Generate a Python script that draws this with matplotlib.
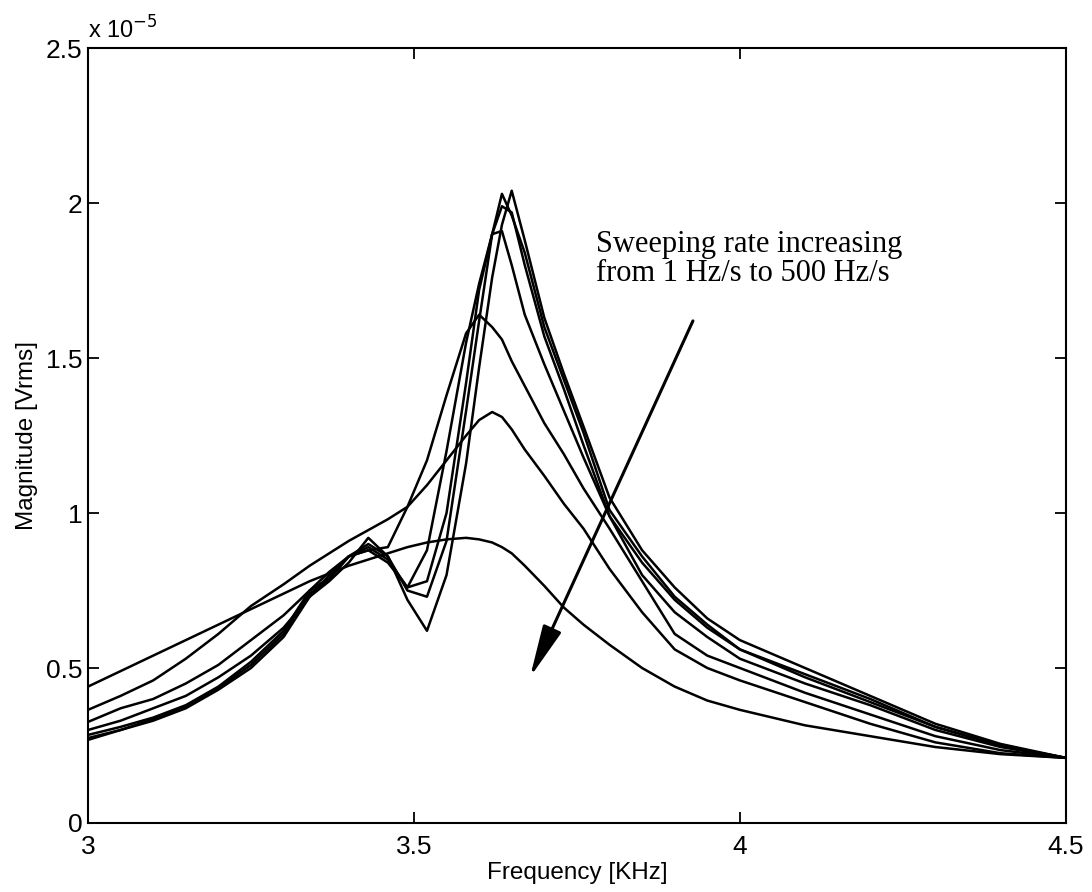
import matplotlib
matplotlib.use('Agg')
import matplotlib.pyplot as plt
from matplotlib.ticker import FuncFormatter

# frequency grid [KHz], shared by all sweeps
freq = [3.00, 3.05, 3.10, 3.15, 3.20, 3.25, 3.30, 3.34, 3.37, 3.40, 3.43, 3.46,
        3.49, 3.52, 3.55, 3.58, 3.60, 3.62, 3.635, 3.65, 3.67, 3.70, 3.73, 3.76,
        3.80, 3.85, 3.90, 3.95, 4.00, 4.10, 4.20, 4.30, 4.40, 4.50]

# magnitude [x 1e-5 Vrms], slowest sweep first
mag_1 = [.268, .30, .33, .37, .43, .50, .60, .73, .78, .84, .92, .86,
         .72, .62, .80, 1.16, 1.47, 1.76, 1.93, 2.04, 1.88, 1.63, 1.45, 1.28,
         1.05, .88, .76, .66, .59, .50, .41, .32, .255, .21]
mag_2 = [.274, .30, .335, .375, .435, .51, .61, .74, .785, .86, .90, .86,
         .75, .73, .91, 1.33, 1.62, 1.90, 2.03, 1.96, 1.84, 1.60, 1.43, 1.26,
         1.01, .86, .73, .64, .56, .48, .40, .31, .25, .21]
mag_3 = [.284, .31, .34, .38, .44, .52, .62, .75, .79, .86, .89, .85,
         .76, .78, 1.00, 1.42, 1.72, 1.90, 1.99, 1.97, 1.80, 1.57, 1.40, 1.22,
         .99, .84, .72, .63, .56, .47, .39, .31, .25, .21]
mag_4 = [.30, .33, .37, .41, .47, .54, .63, .73, .80, .86, .88, .84,
         .76, .88, 1.20, 1.55, 1.74, 1.90, 1.91, 1.80, 1.64, 1.48, 1.33, 1.18,
         .99, .80, .68, .60, .53, .45, .38, .30, .245, .21]
mag_5 = [.326, .37, .40, .45, .51, .59, .67, .75, .81, .86, .88, .89,
         1.02, 1.17, 1.38, 1.58, 1.64, 1.60, 1.56, 1.49, 1.41, 1.29, 1.19, 1.08,
         .95, .78, .61, .54, .50, .42, .35, .28, .235, .21]
mag_6 = [.365, .41, .46, .53, .61, .70, .77, .83, .87, .91, .945, .98,
         1.02, 1.09, 1.17, 1.25, 1.30, 1.326, 1.31, 1.27, 1.205, 1.12, 1.03, .95,
         .82, .68, .56, .50, .46, .39, .32, .26, .225, .21]
mag_7 = [.44, .49, .54, .59, .64, .69, .74, .78, .805, .83, .85, .87,
         .89, .905, .915, .92, .915, .905, .89, .87, .83, .765, .695, .64,
         .575, .50, .44, .395, .365, .315, .28, .245, .222, .21]

sweeps = [mag_1, mag_2, mag_3, mag_4, mag_5, mag_6, mag_7]

yticks = [0, 0.5, 1, 1.5, 2, 2.5]
xticks = [3, 3.5, 4, 4.5]

plt.rcParams['font.family'] = ['Liberation Sans', 'DejaVu Sans']

fig = plt.figure(figsize=(10.92, 8.92), dpi=100)
ax = fig.add_axes([0.0806, 0.0774, 0.8954, 0.8686])

for m in sweeps:
    ax.plot(freq, m, color='black', linewidth=1.8)

ax.set_xlim(3, 4.5)
ax.set_ylim(0, 2.5)
ax.set_xticks(xticks)
ax.set_yticks(yticks)
fmt = FuncFormatter(lambda v, p: '%g' % v)
ax.xaxis.set_major_formatter(fmt)
ax.yaxis.set_major_formatter(fmt)
ax.tick_params(direction='in', length=8, width=1.3, top=True, right=True,
               labelsize=19)
ax.tick_params(axis='x', pad=9)
ax.tick_params(axis='y', pad=4)
for s in ax.spines.values():
    s.set_linewidth(1.5)

ax.set_xlabel('Frequency [KHz]', fontsize=17.5, labelpad=2)
ax.set_ylabel('Magnitude [Vrms]', fontsize=17.5, labelpad=6)
ax.text(0.0, 1.006, r'x 10$^{-5}$', transform=ax.transAxes, fontsize=17,
        ha='left', va='bottom')

ax.text(3.78, 1.82, 'Sweeping rate increasing\nfrom 1 Hz/s to 500 Hz/s',
        family=['Liberation Serif', 'DejaVu Serif'], fontsize=22,
        ha='left', va='center', linespacing=1.0)
ax.annotate('', xy=(3.678, 0.47), xytext=(3.928, 1.62),
            arrowprops=dict(arrowstyle='-|>,head_length=1.6,head_width=0.3',
                            mutation_scale=20, color='black', lw=2.2,
                            shrinkA=0, shrinkB=0))

fig.savefig('out.png', dpi=100)
